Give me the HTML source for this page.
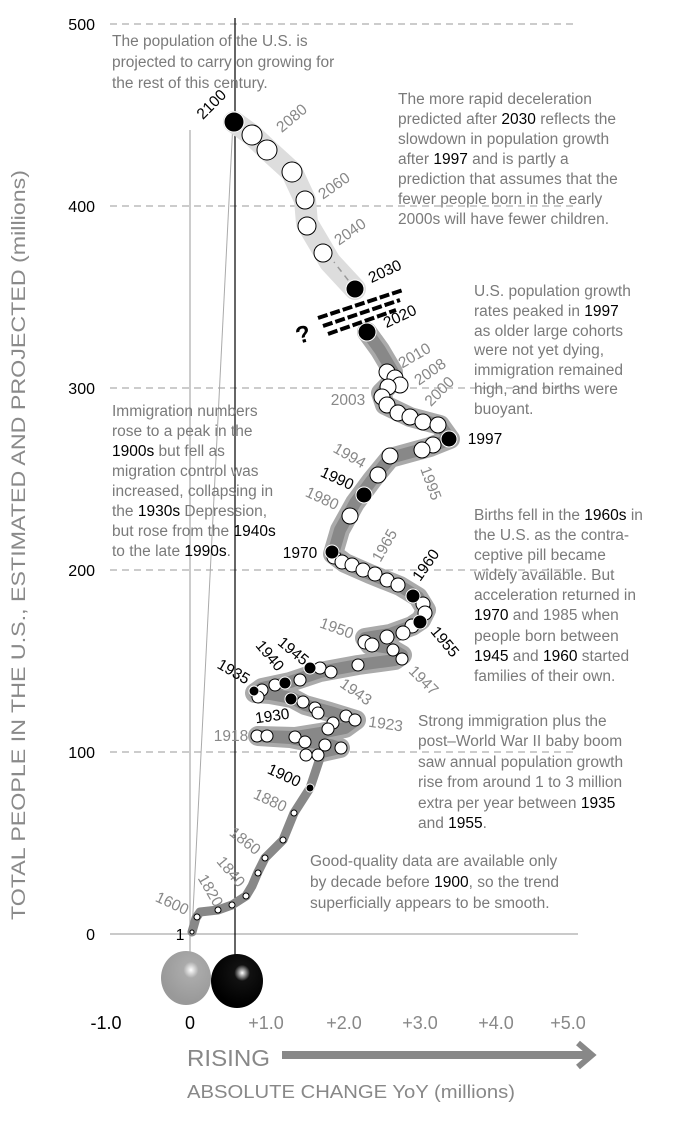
<!DOCTYPE html>
<html><head><meta charset="utf-8"><style>
body{margin:0;background:#fff}
svg{display:block}
text{font-family:"Liberation Sans",sans-serif}
.a{font-size:15.5px;fill:#7a7a7a}
.a tspan.b{fill:#000}
.y{font-size:15.5px;fill:#888}
.k{font-size:15.5px;fill:#000}
</style></head><body>
<svg width="675" height="1125" viewBox="0 0 675 1125" xmlns="http://www.w3.org/2000/svg">
<defs>
<radialGradient id="gb" cx="0.6" cy="0.35" r="0.6"><stop offset="0" stop-color="#fff"/><stop offset="0.25" stop-color="#aaa"/><stop offset="1" stop-color="#999"/></radialGradient>
<radialGradient id="kb" cx="0.6" cy="0.35" r="0.6"><stop offset="0" stop-color="#fff"/><stop offset="0.25" stop-color="#111"/><stop offset="1" stop-color="#000"/></radialGradient>
</defs>
<g stroke="#999" stroke-width="1" stroke-dasharray="7,5" fill="none">
<line x1="110" y1="24" x2="578" y2="24"/>
<line x1="110" y1="206" x2="578" y2="206"/>
<line x1="110" y1="388" x2="578" y2="388"/>
<line x1="110" y1="570" x2="578" y2="570"/>
<line x1="110" y1="752" x2="578" y2="752"/>
</g>
<line x1="110" y1="934" x2="578" y2="934" stroke="#aaa" stroke-width="1.2"/>
<line x1="190" y1="130" x2="190" y2="955" stroke="#aaa" stroke-width="1.2"/>
<line x1="235" y1="18" x2="235" y2="960" stroke="#000" stroke-width="1.2"/>
<line x1="233" y1="122" x2="192" y2="932" stroke="#aaa" stroke-width="1"/>
<g font-size="16" fill="#000" text-anchor="end">
<text x="95" y="30">500</text><text x="95" y="212">400</text><text x="95" y="394">300</text>
<text x="95" y="576">200</text><text x="95" y="758">100</text><text x="95" y="940">0</text>
</g>
<text transform="translate(25,545) rotate(-90)" text-anchor="middle" font-size="19" fill="#8a8a8a" textLength="750" lengthAdjust="spacingAndGlyphs">TOTAL PEOPLE IN THE U.S., ESTIMATED AND PROJECTED (millions)</text>
<polyline fill="none" stroke="#ddd" stroke-width="22" stroke-linecap="round" stroke-linejoin="round" points="355,289 330,262 320,245 307,223 305,200 292,172 270,152 252,135 234,122"/>
<polyline fill="none" stroke="#aaa" stroke-width="20" stroke-linecap="round" stroke-linejoin="round" points="322,752 340,748 330,745 310,742 290,738 258,736 295,737 320,733 345,728 356,720 330,712 305,705 292,698 270,694 255,693 262,688 290,682 320,672 358,665 395,660 402,655 390,648 370,645 365,638 390,634 412,626 421,620 426,610 418,597 400,586 370,574 345,563 333,554 340,530 355,503 372,480 390,458 430,447 450,439 440,425 410,417 385,405 381,393 392,382 393,372 380,350 367,332"/>
<polyline fill="none" stroke="#888" stroke-width="12" stroke-linecap="round" stroke-linejoin="round" points="322,752 340,748 330,745 310,742 290,738 258,736 295,737 320,733 345,728 356,720 330,712 305,705 292,698 270,694 255,693 262,688 290,682 320,672 358,665 395,660 402,655 390,648 370,645 365,638 390,634 412,626 421,620 426,610 418,597 400,586 370,574 345,563 333,554 340,530 355,503 372,480 390,458 430,447 450,439 440,425 410,417 385,405 381,393 392,382 393,372 380,350 367,332"/>
<polyline fill="none" stroke="#888" stroke-width="9" stroke-linecap="round" stroke-linejoin="round" points="192,932 196,918 200,912 218,910 232,905 246,896 252,886 258,872 265,858 283,840 294,813 310,788 318,764 322,752"/>
<line x1="355" y1="289" x2="334" y2="262" stroke="#999" stroke-dasharray="6,5" stroke-width="1.5"/>
<g stroke="#000" stroke-width="4" stroke-dasharray="10,3">
<line x1="318" y1="318" x2="403" y2="290"/><line x1="323" y1="326" x2="400" y2="300"/><line x1="328" y1="334" x2="396" y2="310"/>
</g>
<text x="296" y="342" font-size="24" font-weight="bold" fill="#000" transform="rotate(-15 305 335)">?</text>
<g stroke="#000" stroke-width="1" fill="#fff">
<circle cx="252" cy="135" r="10"/><circle cx="267" cy="150" r="10"/><circle cx="292" cy="172" r="10"/><circle cx="305" cy="200" r="9"/><circle cx="307" cy="226" r="9"/><circle cx="323" cy="253" r="9"/>
<circle cx="387" cy="372" r="8"/><circle cx="395" cy="378" r="8"/><circle cx="400" cy="385" r="8"/><circle cx="388" cy="387" r="8"/><circle cx="382" cy="397" r="8"/><circle cx="387" cy="405" r="8"/><circle cx="398" cy="413" r="8"/><circle cx="410" cy="417" r="8"/><circle cx="423" cy="422" r="8"/><circle cx="438" cy="425" r="8"/>
<circle cx="433" cy="445" r="8"/><circle cx="422" cy="450" r="8"/><circle cx="390" cy="456" r="8"/><circle cx="378" cy="475" r="8"/><circle cx="350" cy="516" r="8"/>
<circle cx="334" cy="557" r="7"/><circle cx="342" cy="562" r="7"/><circle cx="352" cy="565" r="7"/><circle cx="363" cy="570" r="7"/><circle cx="375" cy="574" r="7"/><circle cx="387" cy="580" r="7"/><circle cx="398" cy="585" r="7"/><circle cx="423" cy="604" r="7"/><circle cx="425" cy="613" r="7"/><circle cx="412" cy="626" r="7"/><circle cx="403" cy="633" r="7"/><circle cx="387" cy="637" r="7"/><circle cx="365" cy="642" r="7"/><circle cx="372" cy="645" r="7"/>
<circle cx="393" cy="650" r="6"/><circle cx="402" cy="659" r="6"/><circle cx="358" cy="665" r="6"/><circle cx="320" cy="668" r="6"/><circle cx="331" cy="672" r="6"/><circle cx="300" cy="680" r="6"/><circle cx="275" cy="685" r="6"/><circle cx="262" cy="690" r="6"/><circle cx="258" cy="697" r="6"/>
<circle cx="303" cy="702" r="6"/><circle cx="315" cy="708" r="6"/><circle cx="318" cy="713" r="6"/><circle cx="346" cy="716" r="6"/><circle cx="355" cy="720" r="6"/><circle cx="333" cy="723" r="6"/><circle cx="328" cy="729" r="6"/><circle cx="295" cy="737" r="6"/><circle cx="305" cy="742" r="6"/><circle cx="257" cy="736" r="6"/><circle cx="267" cy="736" r="6"/><circle cx="325" cy="745" r="6"/><circle cx="341" cy="748" r="6"/><circle cx="306" cy="755" r="6"/><circle cx="318" cy="755" r="6"/>
<circle cx="294" cy="813" r="3"/><circle cx="283" cy="840" r="3"/><circle cx="265" cy="858" r="3"/><circle cx="258" cy="873" r="3"/><circle cx="246" cy="896" r="3"/><circle cx="232" cy="905" r="3"/><circle cx="218" cy="910" r="3"/><circle cx="197" cy="917" r="3"/><circle cx="192" cy="932" r="2"/>
</g>
<g fill="#000" stroke="#fff" stroke-width="1">
<circle cx="234" cy="122" r="10"/><circle cx="355" cy="289" r="9"/><circle cx="367" cy="332" r="9"/><circle cx="449" cy="439" r="8"/><circle cx="364" cy="495" r="8"/><circle cx="332" cy="552" r="7"/><circle cx="413" cy="596" r="7"/><circle cx="420" cy="622" r="7"/><circle cx="310" cy="668" r="6"/><circle cx="285" cy="683" r="6"/><circle cx="291" cy="699" r="6"/><circle cx="254" cy="691" r="5"/><circle cx="310" cy="788" r="4"/>
</g>
<ellipse cx="186" cy="978" rx="25" ry="27" fill="url(#gb)"/>
<ellipse cx="237" cy="981" rx="26" ry="27" fill="url(#kb)"/>
<text class="k" transform="translate(215,108) rotate(-45)" text-anchor="middle">2100</text>
<text class="y" transform="translate(295,122) rotate(-40)" text-anchor="middle">2080</text>
<text class="y" transform="translate(337,190) rotate(-35)" text-anchor="middle">2060</text>
<text class="y" transform="translate(353,236) rotate(-35)" text-anchor="middle">2040</text>
<text class="k" transform="translate(387,276) rotate(-25)" text-anchor="middle">2030</text>
<text class="k" transform="translate(402,321) rotate(-25)" text-anchor="middle">2020</text>
<text class="y" transform="translate(417,360) rotate(-30)" text-anchor="middle">2010</text>
<text class="y" transform="translate(433,376) rotate(-35)" text-anchor="middle">2008</text>
<text class="y" transform="translate(443,395) rotate(-45)" text-anchor="middle">2000</text>
<text class="y" x="348" y="405" text-anchor="middle">2003</text>
<text class="k" x="485" y="444" text-anchor="middle">1997</text>
<text class="y" transform="translate(347,460) rotate(30)" text-anchor="middle">1994</text>
<text class="k" transform="translate(335,483) rotate(25)" text-anchor="middle">1990</text>
<text class="y" transform="translate(320,503) rotate(25)" text-anchor="middle">1980</text>
<text class="y" transform="translate(426,485) rotate(70)" text-anchor="middle">1995</text>
<text class="k" x="300" y="558" text-anchor="middle">1970</text>
<text class="y" transform="translate(389,548) rotate(-60)" text-anchor="middle">1965</text>
<text class="k" transform="translate(430,568) rotate(-55)" text-anchor="middle">1960</text>
<text class="k" transform="translate(441,645) rotate(50)" text-anchor="middle">1955</text>
<text class="y" transform="translate(335,633) rotate(20)" text-anchor="middle">1950</text>
<text class="y" transform="translate(420,684) rotate(45)" text-anchor="middle">1947</text>
<text class="k" transform="translate(290,655) rotate(40)" text-anchor="middle">1945</text>
<text class="k" transform="translate(266,659) rotate(50)" text-anchor="middle">1940</text>
<text class="k" transform="translate(231,676) rotate(30)" text-anchor="middle">1935</text>
<text class="y" transform="translate(353,696) rotate(35)" text-anchor="middle">1943</text>
<text class="k" transform="translate(273,721) rotate(-8)" text-anchor="middle">1930</text>
<text class="y" transform="translate(385,729) rotate(8)" text-anchor="middle">1923</text>
<text class="y" x="231" y="741" text-anchor="middle">1918</text>
<text class="k" transform="translate(282,780) rotate(25)" text-anchor="middle">1900</text>
<text class="y" transform="translate(268,805) rotate(25)" text-anchor="middle">1880</text>
<text class="y" transform="translate(242,845) rotate(38)" text-anchor="middle">1860</text>
<text class="y" transform="translate(227,875) rotate(50)" text-anchor="middle">1840</text>
<text class="y" transform="translate(206,893) rotate(60)" text-anchor="middle">1820</text>
<text class="y" transform="translate(170,908) rotate(25)" text-anchor="middle">1600</text>
<text class="k" x="180" y="940" text-anchor="middle">1</text>
<text class="a"><tspan x="112" y="46">The population of the U.S. is</tspan><tspan x="112" y="67">projected to carry on growing for</tspan><tspan x="112" y="88">the rest of this century.</tspan></text>
<text class="a"><tspan x="398" y="104">The more rapid deceleration</tspan><tspan x="398" y="124">predicted after <tspan class="b">2030</tspan> reflects the</tspan><tspan x="398" y="144">slowdown in population growth</tspan><tspan x="398" y="164">after <tspan class="b">1997</tspan> and is partly a</tspan><tspan x="398" y="184">prediction that assumes that the</tspan><tspan x="398" y="204">fewer people born in the early</tspan><tspan x="398" y="224">2000s will have fewer children.</tspan></text>
<text class="a"><tspan x="474" y="296">U.S. population growth</tspan><tspan x="474" y="316">rates peaked in <tspan class="b">1997</tspan></tspan><tspan x="474" y="336">as older large cohorts</tspan><tspan x="474" y="355">were not yet dying,</tspan><tspan x="474" y="375">immigration remained</tspan><tspan x="474" y="394">high, and births were</tspan><tspan x="474" y="414">buoyant.</tspan></text>
<text class="a"><tspan x="112" y="416">Immigration numbers</tspan><tspan x="112" y="436">rose to a peak in the</tspan><tspan x="112" y="456"><tspan class="b">1900s</tspan> but fell as</tspan><tspan x="112" y="476">migration control was</tspan><tspan x="112" y="496">increased, collapsing in</tspan><tspan x="112" y="516">the <tspan class="b">1930s</tspan> Depression,</tspan><tspan x="112" y="536">but rose from the <tspan class="b">1940s</tspan></tspan><tspan x="112" y="556">to the late <tspan class="b">1990s</tspan>.</tspan></text>
<text class="a"><tspan x="474" y="520">Births fell in the <tspan class="b">1960s</tspan> in</tspan><tspan x="474" y="540">the U.S. as the contra-</tspan><tspan x="474" y="560">ceptive pill became</tspan><tspan x="474" y="580">widely available. But</tspan><tspan x="474" y="600">acceleration returned in</tspan><tspan x="474" y="620"><tspan class="b">1970</tspan> and 1985 when</tspan><tspan x="474" y="641">people born between</tspan><tspan x="474" y="661"><tspan class="b">1945</tspan> and <tspan class="b">1960</tspan> started</tspan><tspan x="474" y="681">families of their own.</tspan></text>
<text class="a"><tspan x="418" y="726">Strong immigration plus the</tspan><tspan x="418" y="746">post–World War II baby boom</tspan><tspan x="418" y="767">saw annual population growth</tspan><tspan x="418" y="787">rise from around 1 to 3 million</tspan><tspan x="418" y="808">extra per year between <tspan class="b">1935</tspan></tspan><tspan x="418" y="828">and <tspan class="b">1955</tspan>.</tspan></text>
<text class="a"><tspan x="310" y="866">Good-quality data are available only</tspan><tspan x="310" y="887">by decade before <tspan class="b">1900</tspan>, so the trend</tspan><tspan x="310" y="908">superficially appears to be smooth.</tspan></text>
<g font-size="18" text-anchor="middle">
<text x="106" y="1029" fill="#000">-1.0</text><text x="190" y="1029" fill="#000">0</text>
<text x="266" y="1029" fill="#888">+1.0</text><text x="344" y="1029" fill="#888">+2.0</text><text x="420" y="1029" fill="#888">+3.0</text><text x="496" y="1029" fill="#888">+4.0</text><text x="568" y="1029" fill="#888">+5.0</text>
</g>
<text x="187" y="1066" font-size="23" fill="#888" textLength="83" lengthAdjust="spacingAndGlyphs">RISING</text>
<line x1="282" y1="1055" x2="588" y2="1055" stroke="#888" stroke-width="8"/>
<polyline points="578,1043 592,1055 578,1067" fill="none" stroke="#888" stroke-width="6"/>
<text x="187" y="1098" font-size="18" fill="#888" textLength="328" lengthAdjust="spacingAndGlyphs">ABSOLUTE CHANGE YoY (millions)</text>
</svg>
</body></html>
